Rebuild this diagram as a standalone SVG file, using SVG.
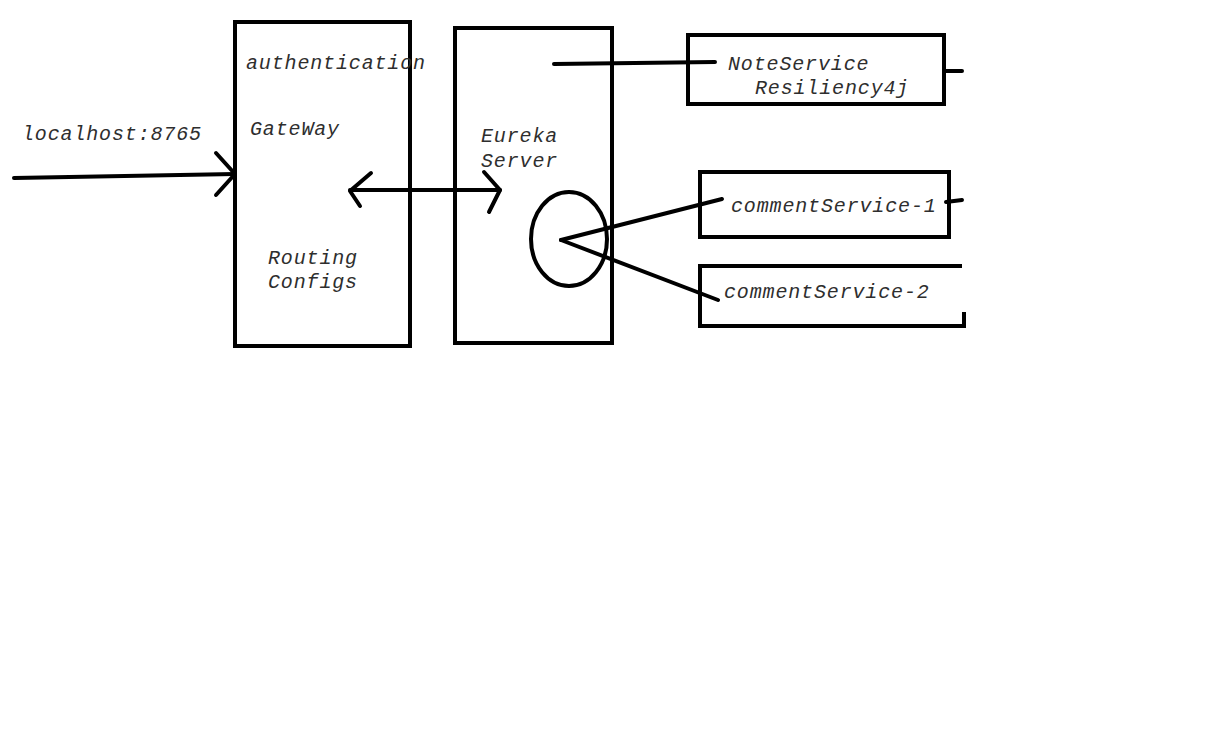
<svg xmlns="http://www.w3.org/2000/svg" width="1213" height="748" viewBox="0 0 1213 748">
  <style>
    .box { fill: none; stroke: #000; stroke-width: 4; }
    .ln { fill: none; stroke: #000; stroke-width: 4; stroke-linecap: round; stroke-linejoin: round; }
    text { font-family: "Liberation Mono", "Courier New", monospace; font-style: italic; font-size: 20px; letter-spacing: 0.85px; fill: #2e2e2e; }
  </style>
  <rect width="1213" height="748" fill="#fff"/>

  <g id="gateway">
    <rect class="box" x="235" y="22" width="175" height="324"/>
    <text x="246" y="69">authentication</text>
    <text x="250" y="135">GateWay</text>
    <text x="268" y="264">Routing</text>
    <text x="268" y="288">Configs</text>
  </g>

  <g id="eureka">
    <rect class="box" x="455" y="28" width="157" height="315"/>
    <text x="481" y="142">Eureka</text>
    <text x="481" y="167">Server</text>
    <ellipse class="box" cx="569" cy="239" rx="38" ry="47"/>
  </g>

  <g id="note-service">
    <rect class="box" x="688" y="35" width="256" height="69"/>
    <text x="728" y="70">NoteService</text>
    <text x="755" y="94">Resiliency4j</text>
  </g>

  <g id="comment-service-1">
    <rect class="box" x="700" y="172" width="249" height="65"/>
    <text x="731" y="212">commentService-1</text>
  </g>

  <g id="comment-service-2">
    <path class="box" d="M964,312 V326 H700 V266 H962"/>
    <text x="724" y="298">commentService-2</text>
  </g>

  <g id="connectors">
    <!-- client request into the gateway -->
    <path class="ln" d="M14,178 L235,174"/>
    <path class="ln" d="M216,153 L235,174 L216,195"/>
    <text x="22" y="140">localhost:8765</text>
    <!-- gateway <-> eureka -->
    <path class="ln" d="M350,190 L500,190"/>
    <path class="ln" d="M371,173 L350,191 L360,206"/>
    <path class="ln" d="M484,172 L500,190 L489,212"/>
    <!-- eureka -> note service -->
    <path class="ln" d="M554,64 L715,62"/>
    <path class="ln" d="M944,71 L962,71"/>
    <!-- eureka registry -> comment services -->
    <path class="ln" d="M561,240 L722,199"/>
    <path class="ln" d="M561,240 L718,300"/>
    <path class="ln" d="M946,202 L962,200"/>
  </g>
</svg>
